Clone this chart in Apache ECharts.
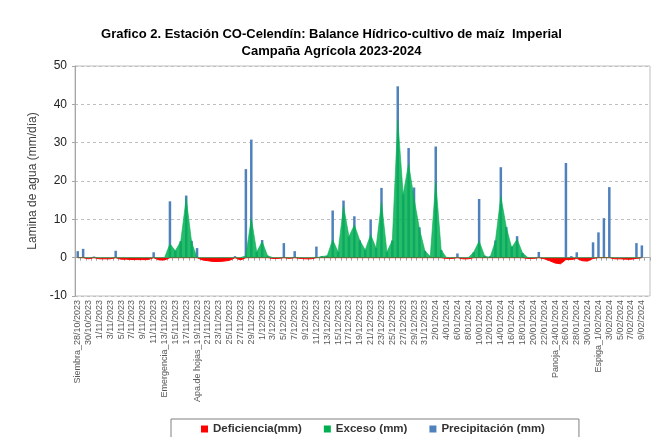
<!DOCTYPE html>
<html>
<head>
<meta charset="utf-8">
<script src="https://cdn.jsdelivr.net/npm/echarts@6/dist/echarts.min.js"></script>
<style>
  html, body { margin: 0; padding: 0; background: #fff; }
  #chart { width: 663px; height: 437px; }
</style>
</head>
<body>
<div id="chart"></div>
<script>
// dias desde la siembra (28/10/2023) hasta 10/02/2024
const startDay = new Date(2023, 9, 28);
const nDays = 106;
const phaseNames = { 0: 'Siembra_', 16: 'Emergencia_', 22: 'Apa.de hojas_', 88: 'Panoja_', 96: 'Espiga_' };

const categories = [];
for (let i = 0; i < nDays; i++) {
  const d = new Date(startDay.getFullYear(), startDay.getMonth(), startDay.getDate() + i);
  const mm = String(d.getMonth() + 1).padStart(2, '0');
  categories.push((phaseNames[i] || '') + d.getDate() + '/' + mm + '/' + d.getFullYear());
}

const precipitacion = [
  1.7, 2.3, 0, 0.3, 0, 0, 0, 1.8, 0, 0,
  0, 0, 0, 0, 1.4, 0, 0, 14.7, 1.8, 4.3,
  16.2, 4.4, 2.5, 0, 0, 0, 0, 0, 0, 0.4,
  0, 23.1, 30.8, 1.5, 4.6, 0.5, 0, 0, 3.8, 0,
  1.7, 0, 0, 0, 2.9, 0.4, 0.5, 12.3, 1.5, 14.9,
  5.5, 10.8, 4.5, 2.0, 9.9, 2.5, 18.2, 1.5, 4.5, 44.7,
  16.5, 28.6, 18.3, 7.9, 1.8, 0.3, 29.0, 2.0, 0, 0,
  1.1, 0, 0, 1.4, 15.3, 0.5, 0.4, 4.5, 23.6, 8.0,
  2.9, 5.6, 1.2, 0, 0, 1.5, 0, 0, 0, 0,
  24.7, 0.4, 1.4, 0, 0, 4.0, 6.6, 10.3, 18.4, 0,
  0, 0, 0, 3.8, 3.2, null
];

const exceso = [
  0, 0, 0, 0, 0, 0, 0, 0, 0, 0,
  0, 0, 0, 0, 0, 0, 0, 3.6, 1.8, 4.3,
  15.5, 4.0, 0, 0, 0, 0, 0, 0, 0, 0,
  0, 0.5, 10.3, 1.5, 4.2, 0.5, 0, 0, 0, 0,
  0, 0, 0, 0, 0, 0.3, 0.5, 4.7, 1.5, 13.5,
  5.5, 8.5, 4.5, 2.0, 6.0, 2.5, 14.5, 1.5, 4.5, 36,
  16.5, 24.5, 15.5, 7.5, 1.8, 0.3, 20, 2.0, 0, 0,
  0, 0, 0, 1.4, 4.3, 0.5, 0, 4.3, 16, 8.0,
  2.6, 4.8, 1.2, 0, 0, 0, 0, 0, 0, 0,
  0, 0, 0, 0, 0, 0, 0, 0, 0, 0,
  0, 0, 0, 0, 0, null
];

const deficiencia = [
  0, 0, -0.3, 0, -0.3, -0.3, -0.3, 0, -0.4, -0.4,
  -0.5, -0.5, -0.5, -0.5, 0, -0.6, -0.6, 0, 0, 0,
  0, 0, 0, -0.6, -0.8, -1.0, -1.0, -0.9, -0.7, 0,
  -0.6, 0, 0, 0, 0, 0, -0.2, -0.2, 0, -0.2,
  0, -0.2, -0.3, -0.3, 0, 0, 0, 0, 0, 0,
  0, 0, 0, 0, 0, 0, 0, 0, 0, 0,
  0, 0, 0, 0, 0, 0, 0, 0, -0.2, -0.2,
  0, -0.3, -0.3, 0, 0, 0, 0, 0, 0, 0,
  0, 0, 0, -0.2, -0.2, 0, -0.3, -0.8, -1.4, -1.6,
  -0.5, -0.5, -0.2, -0.8, -0.9, -0.2, 0, 0, 0, -0.3,
  -0.3, -0.4, -0.4, -0.2, 0, null
];

const chart = echarts.init(document.getElementById('chart'));
chart.setOption({
  animation: false,
  textStyle: { fontFamily: 'Liberation Sans' },
  title: {
    text: 'Grafico 2. Estación CO-Celendín: Balance Hídrico-cultivo de maíz  Imperial\nCampaña Agrícola 2023-2024',
    left: 'center',
    top: 21,
    textStyle: { fontSize: 13, fontWeight: 'bold', color: '#000', lineHeight: 17 },
  },
  legend: {
    data: ['Deficiencia(mm)', 'Exceso (mm)', 'Precipitación (mm)'],
    top: 419,
    left: 171,
    icon: 'rect',
    itemWidth: 7,
    itemHeight: 7,
    itemGap: 22,
    padding: [4, 34, 12, 30],
    borderColor: '#808080',
    borderWidth: 1,
    textStyle: { fontSize: 11.5, fontWeight: 'bold', color: '#333' },
  },
  grid: {
    left: 75,
    right: 13,
    top: 66,
    bottom: 141,
    show: true,
    borderColor: '#bfbfbf',
    borderWidth: 1,
  },
  xAxis: [
    {
      type: 'category',
      data: categories,
      position: 'bottom',
      axisLine: { show: false, onZero: false },
      axisTick: { show: false },
      axisLabel: {
        interval: 1,
        rotate: 90,
        fontSize: 9,
        color: '#595959',
        margin: 4,
      },
    },
    {
      type: 'category',
      data: categories,
      position: 'bottom',
      axisLine: { show: true, onZero: true, lineStyle: { color: '#a6a6a6', width: 1 } },
      axisTick: { show: true, interval: 0, length: 3, lineStyle: { color: '#a6a6a6' } },
      axisLabel: { show: false },
    },
  ],
  yAxis: {
    type: 'value',
    min: -10,
    max: 50,
    interval: 10,
    name: 'Lamina de agua (mm/día)',
    nameLocation: 'middle',
    nameGap: 33,
    nameTextStyle: { fontSize: 12, color: '#404040' },
    axisLine: { show: true, lineStyle: { color: '#a6a6a6' } },
    axisTick: { show: true, length: 3, lineStyle: { color: '#a6a6a6' } },
    axisLabel: { fontSize: 12, color: '#222', margin: 8 },
    splitLine: { show: true, lineStyle: { color: '#bfbfbf', type: [3, 3], width: 1 } },
  },
  series: [
    {
      name: 'Deficiencia(mm)',
      type: 'line',
      data: deficiencia,
      symbol: 'none',
      z: 3,
      lineStyle: { color: '#ff0000', width: 1 },
      itemStyle: { color: '#ff0000' },
      areaStyle: { color: '#ff0000', opacity: 1 },
    },
    {
      name: 'Exceso (mm)',
      type: 'line',
      data: exceso,
      symbol: 'none',
      z: 4,
      lineStyle: { color: '#00b050', width: 0.6 },
      itemStyle: { color: '#00b050' },
      areaStyle: { color: '#00b050', opacity: 0.85 },
    },
    {
      name: 'Precipitación (mm)',
      type: 'bar',
      data: precipitacion,
      barWidth: 2.5,
      z: 2,
      itemStyle: { color: '#4f81bd' },
    },
  ],
});
</script>
</body>
</html>
